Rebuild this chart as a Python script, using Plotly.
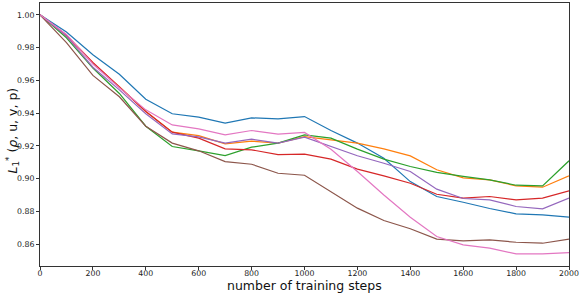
import plotly.graph_objects as go

steps = list(range(0, 2001, 100))

blue = [1.000, 0.9895, 0.9756, 0.9637, 0.9485, 0.9396, 0.9375, 0.9339, 0.9371, 0.9365, 0.9379,
        0.9294, 0.9217, 0.9125, 0.8982, 0.8891, 0.8856, 0.8818, 0.8785, 0.8779, 0.8765]
orange = [1.000, 0.9870, 0.9705, 0.9562, 0.9410, 0.9284, 0.9263, 0.9212, 0.9229, 0.9217, 0.9257,
          0.9237, 0.9217, 0.9182, 0.9139, 0.9054, 0.9005, 0.8993, 0.8956, 0.8948, 0.9017]
green = [1.000, 0.9860, 0.9675, 0.9520, 0.9320, 0.9196, 0.9170, 0.9141, 0.9192, 0.9217, 0.9267,
         0.9247, 0.9180, 0.9119, 0.9074, 0.9038, 0.9014, 0.8993, 0.8960, 0.8956, 0.9109]
red = [1.000, 0.9875, 0.9709, 0.9562, 0.9410, 0.9284, 0.9247, 0.9182, 0.9176, 0.9147, 0.9150,
       0.9119, 0.9058, 0.9017, 0.8972, 0.8905, 0.8881, 0.8891, 0.8871, 0.8881, 0.8926]
purple = [1.000, 0.9870, 0.9680, 0.9542, 0.9396, 0.9273, 0.9255, 0.9217, 0.9241, 0.9217, 0.9253,
          0.9196, 0.9140, 0.9094, 0.9044, 0.8936, 0.8879, 0.8871, 0.8830, 0.8816, 0.8881]
brown = [1.000, 0.9830, 0.9630, 0.9500, 0.9320, 0.9217, 0.9170, 0.9104, 0.9088, 0.9033, 0.9021,
         0.8921, 0.8820, 0.8745, 0.8694, 0.8631, 0.8620, 0.8626, 0.8612, 0.8606, 0.8631]
pink = [1.000, 0.9880, 0.9700, 0.9555, 0.9420, 0.9328, 0.9304, 0.9267, 0.9294, 0.9272, 0.9282,
        0.9180, 0.9044, 0.8900, 0.8765, 0.8647, 0.8596, 0.8576, 0.8541, 0.8541, 0.8549]

series = [
    ("blue", blue, "#1f77b4"),
    ("orange", orange, "#ff7f0e"),
    ("green", green, "#2ca02c"),
    ("red", red, "#d62728"),
    ("purple", purple, "#9467bd"),
    ("brown", brown, "#8c564b"),
    ("pink", pink, "#e377c2"),
]

x_ticks = list(range(0, 2001, 200))
y_ticks = [0.86, 0.88, 0.90, 0.92, 0.94, 0.96, 0.98, 1.00]

fig = go.Figure()
for name, vals, col in series:
    fig.add_trace(go.Scatter(x=steps, y=vals, mode="lines", name=name,
                             line=dict(color=col, width=1.2), showlegend=False))

axis_common = dict(showline=True, linecolor="#333", linewidth=1, mirror=True,
                   ticks="outside", ticklen=3, tickwidth=1, tickcolor="#333",
                   showgrid=False, zeroline=False,
                   tickfont=dict(family="DejaVu Sans", size=7.8, color="#222"))

fig.update_layout(
    width=582, height=294,
    margin=dict(l=40, r=13, t=3, b=28),
    plot_bgcolor="white", paper_bgcolor="white",
    xaxis=dict(range=[0, 2000], tickvals=x_ticks, ticklabelstandoff=-3,
               ticktext=[str(t) for t in x_ticks], **axis_common),
    yaxis=dict(range=[0.8467, 1.0072], tickvals=y_ticks,
               ticktext=["%.2f" % t for t in y_ticks], **axis_common),
    annotations=[
        dict(text="number of training steps", xref="paper", yref="paper",
             x=0.5, y=0, yshift=-19, xanchor="center", yanchor="middle",
             showarrow=False, font=dict(family="DejaVu Sans", size=12.5, color="#111")),
        dict(text="<i>L</i><sub>1</sub><sup>*</sup> (<i>ρ</i>, u, v, p)", xref="paper", yref="paper",
             x=0, y=0.5, xshift=-28, yshift=4, xanchor="center", yanchor="middle", textangle=-90,
             showarrow=False, font=dict(family="DejaVu Sans", size=12.5, color="#111")),
    ],
)

fig.write_html("out.html", config={"displayModeBar": False},
               post_script="document.body.style.margin='0';document.body.style.padding='0';")
